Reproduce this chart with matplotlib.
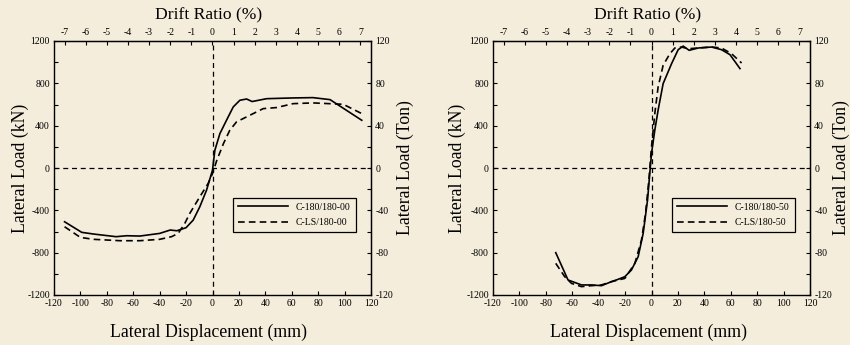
import numpy as np
import matplotlib.pyplot as plt

plt.rcParams['font.family'] = ['Liberation Serif', 'DejaVu Serif']
plt.rcParams['axes.unicode_minus'] = False

# left panel: specimens with 00
disp_a1 = [-112, -99, -90, -73, -65, -55, -40, -32, -27, -20, -14.6, -9.6, -4.5, 0, 1.8, 5.6, 10.6, 15.7, 20.7, 25.8, 30, 41, 61, 76, 89, 113]
load_a1 = [-508, -608, -624, -649, -640, -643, -618, -586, -593, -564, -492, -366, -209, -20, 168, 325, 451, 577, 640, 652, 628, 655, 662, 665, 646, 451]
disp_a2 = [-112, -100, -90, -70, -55, -40, -31, -26, -21, -17.2, -9.6, -3.3, 0, 3.3, 8.3, 13.1, 18.2, 25.8, 38.4, 48.5, 61, 76, 99, 113]
load_a2 = [-555, -656, -674, -687, -687, -674, -649, -618, -524, -429, -272, -146, -52, 74, 231, 357, 436, 483, 561, 571, 608, 615, 602, 514]

# right panel: specimens with 50
disp_b1 = [-72.5, -63.2, -53, -45.5, -37.9, -30.3, -25.3, -20.2, -15.2, -10.1, -6.3, -3.0, -1.3, 0, 2.5, 5, 8.8, 15.2, 20.2, 24, 28.5, 35.4, 45.5, 53, 59.4, 67]
load_b1 = [-800, -1058, -1105, -1105, -1112, -1074, -1052, -1027, -964, -838, -618, -303, -52, 137, 357, 546, 797, 986, 1118, 1152, 1112, 1134, 1143, 1118, 1071, 939]
disp_b2 = [-72.5, -65.7, -60.6, -53, -45.5, -37.9, -30.3, -20.2, -12.6, -7.6, -4.5, -2.0, 0, 2.5, 5, 8.8, 13.9, 17.7, 22.7, 27.8, 35.4, 45.5, 53, 60.6, 68.2]
load_b2 = [-901, -1027, -1090, -1121, -1112, -1105, -1074, -1043, -901, -681, -429, -115, 200, 514, 765, 970, 1080, 1134, 1143, 1127, 1134, 1143, 1134, 1080, 992]

labels_a = ['C-180/180-00', 'C-LS/180-00']
labels_b = ['C-180/180-50', 'C-LS/180-50']

height = 16.0  # mm per 1 % drift
bg = '#F4EDDC'

fig = plt.figure(figsize=(8.5, 3.45), dpi=100)
fig.patch.set_facecolor(bg)


def panel(x0, d1, l1, d2, l2, labels):
    ax = fig.add_axes([x0 / 850, 1 - 295 / 345, 317 / 850, 254 / 345])
    ax.set_facecolor('none')
    ax.plot(d1, l1, 'k-', lw=1.2, label=labels[0])
    ax.plot(d2, l2, 'k--', lw=1.2, dashes=(4, 2.5), label=labels[1])
    ax.axhline(0, color='k', ls='--', lw=0.9, dashes=(4, 3))
    ax.axvline(0, color='k', ls='--', lw=0.9, dashes=(4, 3))
    ax.set_xlim(-120, 120)
    ax.set_ylim(-1200, 1200)
    ax.set_xticks(np.arange(-120, 121, 20))
    ax.set_yticks(np.arange(-1200, 1201, 400))
    ax.set_yticks(np.arange(-1200, 1201, 200), minor=True)
    ax.tick_params(direction='in', labelsize=7, length=3, width=0.8, pad=3)
    ax.tick_params(which='minor', direction='in', length=3, width=0.8)
    for s in ax.spines.values():
        s.set_linewidth(1.0)

    top = ax.secondary_xaxis('top', functions=(lambda x: x / height, lambda x: x * height))
    top.set_xticks(np.arange(-7, 8, 1))
    top.tick_params(direction='in', labelsize=7, length=3, width=0.8, pad=3)

    right = ax.secondary_yaxis('right', functions=(lambda y: y / 10, lambda y: y * 10))
    right.set_yticks(np.arange(-120, 121, 40))
    right.set_yticks(np.arange(-120, 121, 20), minor=True)
    right.tick_params(direction='in', labelsize=7, length=3, width=0.8, pad=3)
    right.tick_params(which='minor', direction='in', length=3, width=0.8)

    leg = ax.legend(loc='upper left', bbox_to_anchor=(0.549, 0.402), fontsize=7,
                    handlelength=5.2, fancybox=False, framealpha=1, facecolor='none',
                    edgecolor='k', borderpad=0.5, labelspacing=0.7)
    leg.get_frame().set_linewidth(0.9)
    return ax


panel(54, disp_a1, load_a1, disp_a2, load_a2, labels_a)
panel(493, disp_b1, load_b1, disp_b2, load_b2, labels_b)

for cx, ylx, yrx in [(209, 20, 405), (648, 457, 841)]:
    fig.text(cx / 850, 1 - 15 / 345, 'Drift Ratio (%)', ha='center', va='center', fontsize=12.6)
    fig.text(cx / 850, 1 - 332 / 345, 'Lateral Displacement (mm)', ha='center', va='center', fontsize=12.8)
    fig.text(ylx / 850, 1 - 168 / 345, 'Lateral Load (kN)', ha='center', va='center', fontsize=12.8, rotation=90)
    fig.text(yrx / 850, 1 - 168 / 345, 'Lateral Load (Ton)', ha='center', va='center', fontsize=12.8, rotation=90)

fig.savefig('out.png', dpi=100, facecolor=bg)
